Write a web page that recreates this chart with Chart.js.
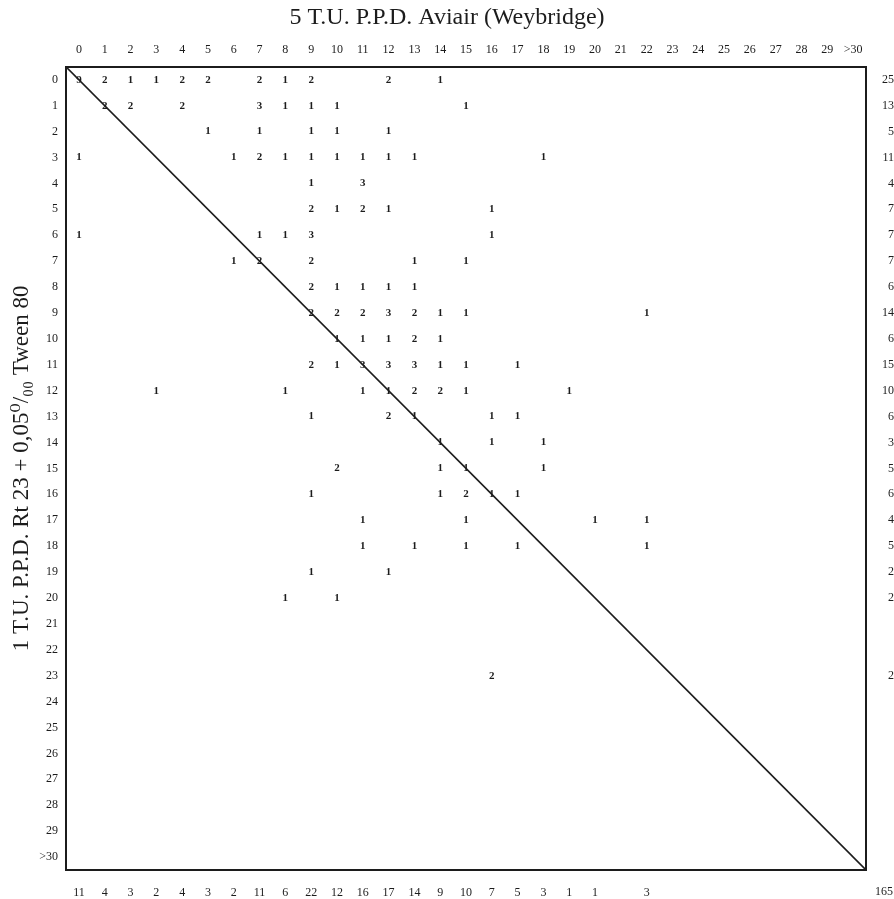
<!DOCTYPE html>
<html>
<head>
<meta charset="utf-8">
<script src="https://cdn.jsdelivr.net/npm/chart.js@4.4.1/dist/chart.umd.min.js"></script>
<style>
  html,body{margin:0;background:#fff}
  #wrap{width:894px;height:899px}
</style>
</head>
<body>
<div id="wrap"><canvas id="c"></canvas></div>
<script>
/* cross table: 1 T.U. Rt 23 (rows) vs 5 T.U. Aviair (columns) */
const SERIF="'Liberation Serif','DejaVu Serif',serif";
const INK="#1c1c1c";

const catLabels=["0","1","2","3","4","5","6","7","8","9","10","11","12","13","14","15",
  "16","17","18","19","20","21","22","23","24","25","26","27","28","29",">30"];

// row totals (right margin), by row 0 .. >30
const rowTotals=[25,13,5,11,4,7,7,7,6,14,6,15,10,6,3,5,6,4,5,2,2,null,null,2,null,null,null,null,null,null,null];
// column totals (bottom margin), by column 0 .. >30
const colTotals=[11,4,3,2,4,3,2,11,6,22,12,16,17,14,9,10,7,5,3,1,1,null,3,null,null,null,null,null,null,null,null];
const grandTotal=165;

// [row, column, count]
const cells=[
  [0,0,9],[0,1,2],[0,2,1],[0,3,1],[0,4,2],[0,5,2],[0,7,2],[0,8,1],[0,9,2],[0,12,2],[0,14,1],
  [1,1,2],[1,2,2],[1,4,2],[1,7,3],[1,8,1],[1,9,1],[1,10,1],[1,15,1],
  [2,5,1],[2,7,1],[2,9,1],[2,10,1],[2,12,1],
  [3,0,1],[3,6,1],[3,7,2],[3,8,1],[3,9,1],[3,10,1],[3,11,1],[3,12,1],[3,13,1],[3,18,1],
  [4,9,1],[4,11,3],
  [5,9,2],[5,10,1],[5,11,2],[5,12,1],[5,16,1],
  [6,0,1],[6,7,1],[6,8,1],[6,9,3],[6,16,1],
  [7,6,1],[7,7,2],[7,9,2],[7,13,1],[7,15,1],
  [8,9,2],[8,10,1],[8,11,1],[8,12,1],[8,13,1],
  [9,9,2],[9,10,2],[9,11,2],[9,12,3],[9,13,2],[9,14,1],[9,15,1],[9,22,1],
  [10,10,1],[10,11,1],[10,12,1],[10,13,2],[10,14,1],
  [11,9,2],[11,10,1],[11,11,3],[11,12,3],[11,13,3],[11,14,1],[11,15,1],[11,17,1],
  [12,3,1],[12,8,1],[12,11,1],[12,12,1],[12,13,2],[12,14,2],[12,15,1],[12,19,1],
  [13,9,1],[13,12,2],[13,13,1],[13,16,1],[13,17,1],
  [14,14,1],[14,16,1],[14,18,1],
  [15,10,2],[15,14,1],[15,15,1],[15,18,1],
  [16,9,1],[16,14,1],[16,15,2],[16,16,1],[16,17,1],
  [17,11,1],[17,15,1],[17,20,1],[17,22,1],
  [18,11,1],[18,13,1],[18,15,1],[18,17,1],[18,22,1],
  [19,9,1],[19,12,1],
  [20,8,1],[20,10,1],
  [23,16,2]
];

// diagonal runs corner to corner of the table
const diagonal=[{x:-0.5,y:-0.5},{x:30.5,y:30.5}];

const intTicks=(s)=>{ s.ticks=catLabels.map((_,i)=>({value:i})); };
const tickFont={family:SERIF,size:12};
const edge={display:true,color:INK,width:2};
const noGrid={display:false,drawTicks:false};

const cellText={
  id:"cellText",
  afterDatasetsDraw(chart){
    const ctx=chart.ctx, meta=chart.getDatasetMeta(1);
    ctx.save();
    ctx.fillStyle=INK; ctx.textAlign="center"; ctx.textBaseline="middle";
    ctx.font="bold 11px "+SERIF;
    meta.data.forEach((pt,i)=>ctx.fillText(String(cells[i][2]),pt.x,pt.y));
    // grand total sits under the row totals, level with the column totals
    const xb=chart.scales.x2, yr=chart.scales.y2;
    ctx.font="12px "+SERIF; ctx.textAlign="right"; ctx.textBaseline="top";
    ctx.fillText(String(grandTotal),yr.right-1,xb.top+xb.options.ticks.padding);
    ctx.restore();
  }
};

new Chart(document.getElementById("c"),{
  type:"scatter",
  data:{
    datasets:[
      {type:"line",data:diagonal,borderColor:INK,borderWidth:1.6,pointRadius:0,fill:false},
      {type:"scatter",data:cells.map(c=>({x:c[1],y:c[0]})),pointRadius:0,pointHoverRadius:0}
    ]
  },
  options:{
    responsive:true,maintainAspectRatio:false,animation:false,
    layout:{padding:0},
    plugins:{
      legend:{display:false},tooltip:{enabled:false},
      title:{display:true,text:"5 T.U. P.P.D. Aviair (Weybridge)",color:INK,
        font:{family:SERIF,size:24,weight:"normal"},padding:{top:3,bottom:2}}
    },
    scales:{
      x:{type:"linear",position:"top",min:-0.5,max:30.5,grid:noGrid,border:edge,
        afterBuildTicks:intTicks,afterFit(s){s.height=33;},
        ticks:{autoSkip:false,maxRotation:0,padding:10,color:INK,font:tickFont,callback:(v,i)=>catLabels[i]}},
      x2:{type:"linear",position:"bottom",min:-0.5,max:30.5,grid:noGrid,border:edge,
        afterBuildTicks:intTicks,afterFit(s){s.height=29;},
        ticks:{autoSkip:false,maxRotation:0,padding:16,color:INK,font:tickFont,callback:(v,i)=>colTotals[i]==null?"":String(colTotals[i])}},
      y:{type:"linear",position:"left",reverse:true,min:-0.5,max:30.5,grid:noGrid,border:edge,
        afterBuildTicks:intTicks,afterFit(s){s.width=66;},
        title:{display:true,text:"1 T.U. P.P.D. Rt 23 + 0,05\u2070/\u2080\u2080 Tween 80",color:INK,
          font:{family:SERIF,size:23},padding:{top:8,bottom:0}},
        ticks:{autoSkip:false,padding:8,color:INK,font:tickFont,callback:(v,i)=>catLabels[i]}},
      y2:{type:"linear",position:"right",reverse:true,min:-0.5,max:30.5,grid:noGrid,border:edge,
        afterBuildTicks:intTicks,afterFit(s){s.width=28;},
        ticks:{autoSkip:false,padding:4,crossAlign:"far",color:INK,font:tickFont,callback:(v,i)=>rowTotals[i]==null?"":String(rowTotals[i])}}
    }
  },
  plugins:[cellText]
});
</script>
</body>
</html>
